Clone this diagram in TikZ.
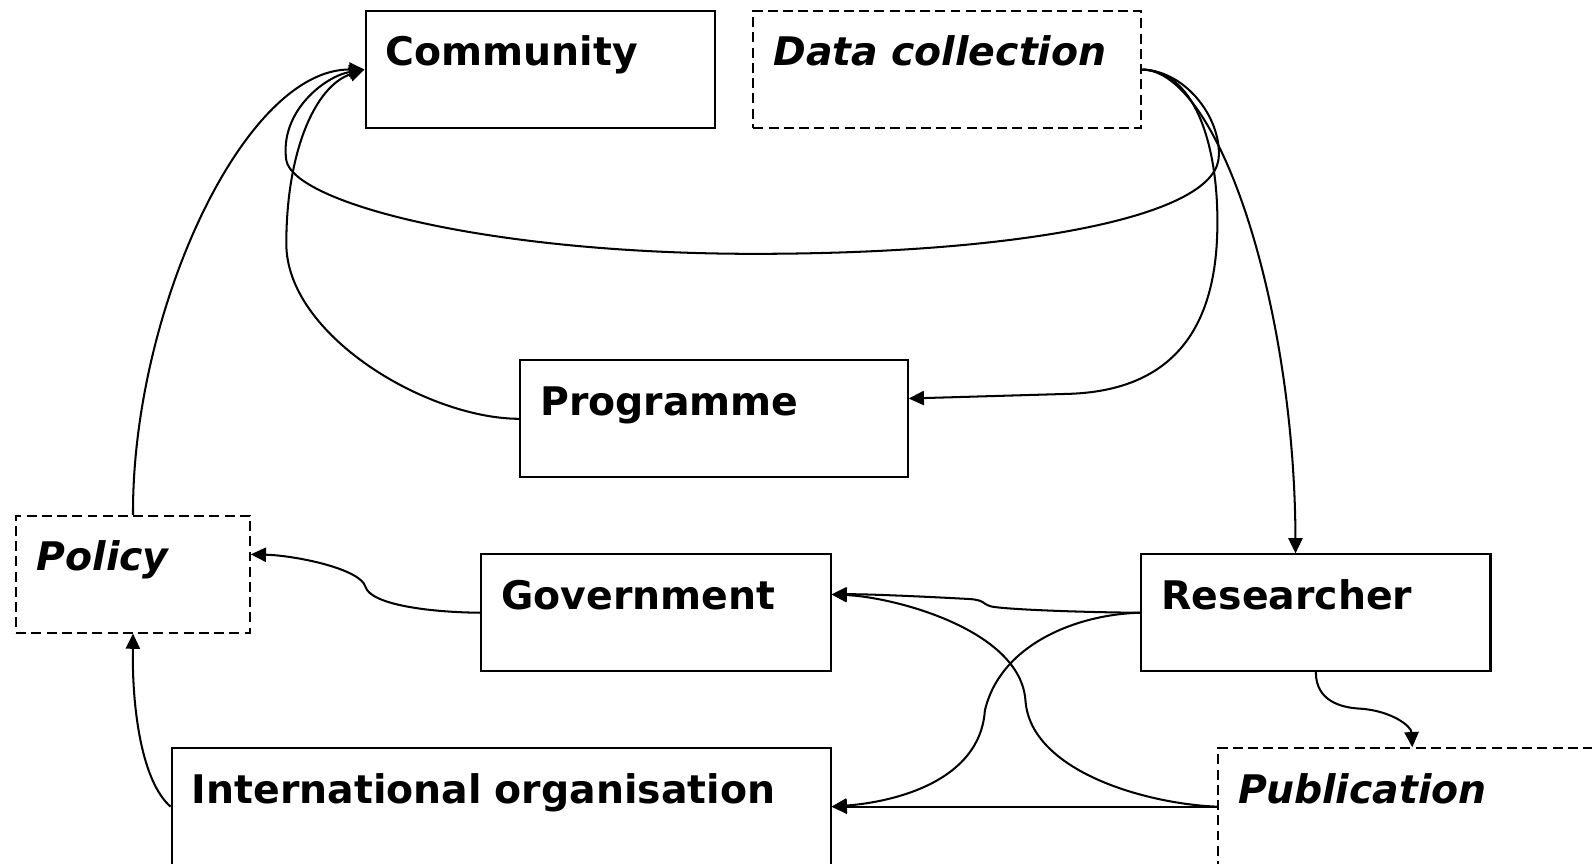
\documentclass[tikz,border=0pt]{standalone}
\usepackage{fontspec}
\setmainfont{DejaVu Sans}
\usetikzlibrary{arrows.meta}

\begin{document}
\begin{tikzpicture}[x=0.5pt, y=-0.5pt,
    entity/.style={draw, line width=1pt, anchor=north west, inner sep=0pt, inner xsep=10pt,
        text height=27pt, text depth=30.5pt, align=left,
        font=\fontsize{19.4pt}{23pt}\selectfont\bfseries},
    source/.style={entity, dash pattern=on 4.9pt off 2.6pt,
        font=\fontsize{19.4pt}{23pt}\selectfont\bfseries\itshape},
    link/.style={line width=1pt, -{Triangle[length=7.5pt, width=7pt]}}]
    \useasboundingbox (0,0) rectangle (1568,850);

    % Top row
    \node[entity, text width=152pt] (community) at (359,10) {Community};
    \node[source, text width=171pt] (datacoll) at (741,10) {Data collection};
    % Middle
    \node[entity, text width=171pt] (programme) at (511,354) {Programme};
    % Lower rows
    \node[source, text width=95pt] (policy) at (15,507) {Policy};
    \node[entity, text width=152pt] (government) at (473,545) {Government};
    \node[entity, text width=152pt] (researcher) at (1123,545) {Researcher};
    \node[entity, text width=304.5pt] (intlorg) at (168,736) {International organisation};
    \node[source, text width=171pt] (publication) at (1199,736) {Publication};

    % Into Community
    \draw[link] (policy.north) .. controls (130,307) and (240,68) .. (community.west);
    \draw[link] (programme.west) .. controls (420,412) and (282,330) .. (282,240)
        .. controls (282,150) and (310,85) .. (community.west);
    \draw[link] (datacoll.east) .. controls (1170,70) and (1205,120) .. (1200,158)
        .. controls (1190,215) and (1000,250) .. (743,250)
        .. controls (480,250) and (290,200) .. (282,158)
        .. controls (275,110) and (320,75) .. (community.west);

    % Out of Data collection
    \draw[link] (datacoll.east) .. controls (1180,70) and (1200,150) .. (1199,223)
        .. controls (1198,340) and (1140,386) .. (1050,388) -- ([yshift=10pt]programme.east);
    \draw[link] (datacoll.east) .. controls (1200,70) and (1275,300) .. ([xshift=-10pt]researcher.north);

    % Out of Researcher
    \draw[link] (researcher.west) .. controls (1060,603) and (985,600) .. (975,597)
        .. controls (968,595) and (970,591) .. (955,590)
        .. controls (900,587) and (850,585) .. ([yshift=9pt]government.east);
    \draw[link] (researcher.west) .. controls (1060,605) and (985,635) .. (970,700)
        .. controls (965,770) and (880,790) .. (intlorg.east);
    \draw[link] (researcher.south) .. controls (1296,690) and (1320,697) .. (1340,698)
        .. controls (1370,700) and (1390,715) .. (publication.north);

    % Out of Publication
    \draw[link] (publication.west) .. controls (1130,792) and (1015,760) .. (1010,690)
        .. controls (1005,620) and (880,588) .. ([yshift=9pt]government.east);
    \draw[link] (publication.west) -- (intlorg.east);

    % Towards Policy
    \draw[link] (government.west) .. controls (420,603) and (365,595) .. (360,578)
        .. controls (355,560) and (290,547) .. ([yshift=9.75pt]policy.east);
    \draw[link] (intlorg.west) .. controls (140,770) and (130,700) .. (policy.south);
\end{tikzpicture}
\end{document}
